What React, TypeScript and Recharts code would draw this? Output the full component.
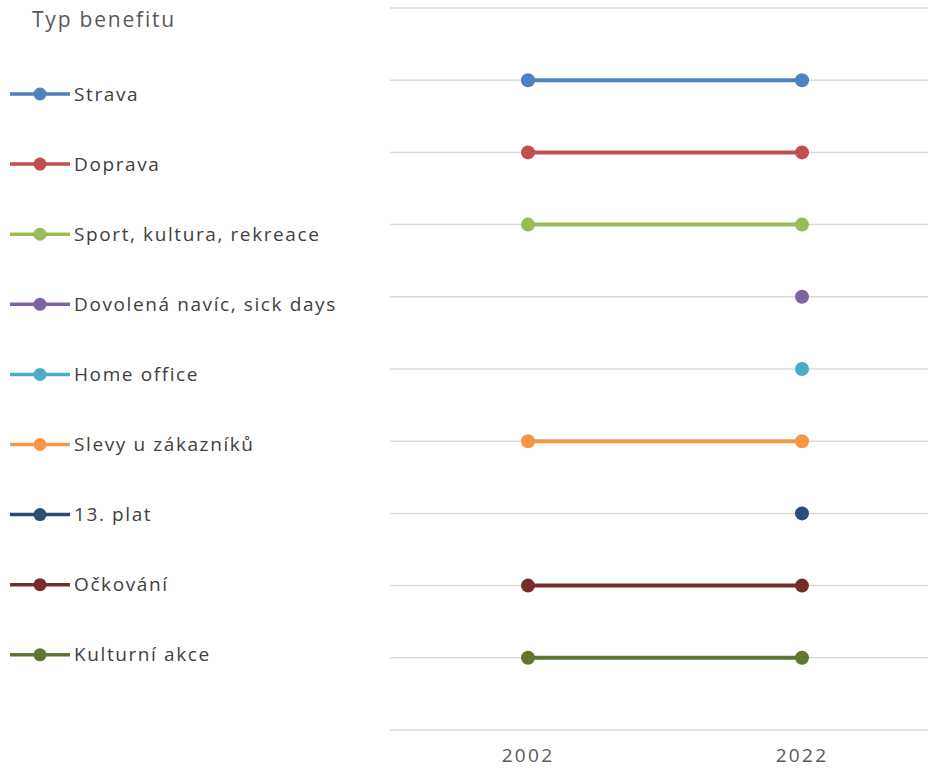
import { CartesianGrid, Line, LineChart, XAxis, YAxis } from "recharts";

const years = ["2002", "2022"];

const seriesNames = [
  "Strava",
  "Doprava",
  "Sport, kultura, rekreace",
  "Dovolená navíc, sick days",
  "Home office",
  "Slevy u zákazníků",
  "13. plat",
  "Očkování",
  "Kulturní akce",
];

// row position of each benefit, null = not offered that year
const strava = [9, 9];
const doprava = [8, 8];
const sport = [7, 7];
const dovolena = [null, 6];
const homeOffice = [null, 5];
const slevy = [4, 4];
const plat13 = [null, 3];
const ockovani = [2, 2];
const kulturni = [1, 1];

const seriesValues = [strava, doprava, sport, dovolena, homeOffice, slevy, plat13, ockovani, kulturni];

const colors = [
  "#4F81BD",
  "#C0504D",
  "#9BBB59",
  "#8064A2",
  "#4BACC6",
  "#F79646",
  "#2C4D75",
  "#772C2A",
  "#5F7530",
];

const yTicks = [0, 1, 2, 3, 4, 5, 6, 7, 8, 9, 10];

const data = years.map((year, i) => {
  const row: Record<string, string | number | null> = { year };
  seriesNames.forEach((name, s) => {
    row[name] = seriesValues[s][i];
  });
  return row;
});

const FONT = "'Open Sans', 'Noto Sans', sans-serif";

function SideLegend() {
  return (
    <svg width={390} height={769} style={{ position: "absolute", left: 0, top: 0 }}>
      <text x={32} y={27} fontFamily={FONT} fontSize={21} fill="#595959" letterSpacing={1.8}>
        Typ benefitu
      </text>
      {seriesNames.map((name, i) => {
        const y = 94 + i * 70.1;
        return (
          <g key={name}>
            <line x1={10} x2={70} y1={y} y2={y} stroke={colors[i]} strokeWidth={3.5} />
            <circle cx={40} cy={y} r={6.5} fill={colors[i]} />
            <text x={74} y={y + 6.5} fontFamily={FONT} fontSize={19} fill="#404040" letterSpacing={1.6}>
              {name}
            </text>
          </g>
        );
      })}
    </svg>
  );
}

export default function App() {
  return (
    <div style={{ position: "absolute", left: 0, top: 0, width: 928, height: 769, background: "#fff" }}>
      <SideLegend />
      <LineChart
        width={928}
        height={769}
        data={data}
        margin={{ top: 8, right: 0, bottom: 0, left: 390 }}
        style={{ position: "absolute", left: 0, top: 0 }}
      >
        <CartesianGrid vertical={false} stroke="#d9d9d9" strokeWidth={1.5} />
        <XAxis
          dataKey="year"
          axisLine={false}
          tickLine={false}
          height={39}
          padding={{ left: 138, right: 126 }}
          tickMargin={13}
          tick={{ fontSize: 19, fill: "#595959", fontFamily: FONT, letterSpacing: 2.3 }}
        />
        <YAxis hide type="number" domain={[0, 10]} ticks={yTicks} />
        {seriesNames.map((name, i) => (
          <Line
            key={name}
            dataKey={name}
            stroke={colors[i]}
            strokeWidth={4}
            dot={{ r: 7, fill: colors[i], stroke: colors[i], strokeWidth: 0 }}
            activeDot={false}
            isAnimationActive={false}
          />
        ))}
      </LineChart>
    </div>
  );
}
